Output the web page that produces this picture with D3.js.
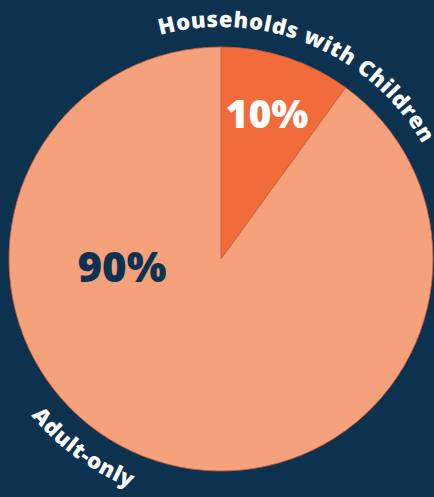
<!DOCTYPE html>
<html>
<head>
<meta charset="utf-8">
<script src="https://cdn.jsdelivr.net/npm/d3@7"></script>
<style>
  html, body { margin: 0; padding: 0; background: #0c3250; }
  svg { display: block; }
  text { font-family: "Open Sans", Lato, sans-serif; font-weight: 800; }
</style>
</head>
<body>
<svg id="chart" width="434" height="497"></svg>
<script>
// Household composition shares
const categories = ["Households with Children", "Adult-only"];
const shares = [10, 90];
const valueLabels = ["10%", "90%"];
const sliceColors = ["#f26b3a", "#f5a17b"];
const valueColors = ["#ffffff", "#0c3250"];

const width = 434, height = 497;
const cx = 221, cy = 259, radius = 212;

const svg = d3.select("#chart");
const g = svg.append("g").attr("transform", `translate(${cx},${cy})`);

const data = categories.map((c, i) => ({ category: c, value: shares[i], label: valueLabels[i] }));

const pie = d3.pie().value(d => d.value).sort(null);
const arcs = pie(data);

const arc = d3.arc().innerRadius(0).outerRadius(radius);

g.selectAll("path.slice")
  .data(arcs)
  .join("path")
  .attr("class", "slice")
  .attr("d", arc)
  .attr("fill", (d, i) => sliceColors[i])
  .attr("stroke", "#c8603a")
  .attr("stroke-width", 0.8);

// value labels inside slices
const labelPos = [[46, -145], [-99, 8]];
const labelSize = [39, 42];
g.selectAll("text.value")
  .data(arcs)
  .join("text")
  .attr("class", "value")
  .attr("x", (d, i) => labelPos[i][0])
  .attr("y", (d, i) => labelPos[i][1])
  .attr("dy", "0.36em")
  .attr("text-anchor", "middle")
  .attr("font-size", (d, i) => labelSize[i])
  .attr("fill", (d, i) => valueColors[i])
  .text(d => d.data.label);

// curved category labels around the rim
function rimPath(centerDeg, spanDeg, r, clockwise) {
  const toXY = a => {
    const rad = a * Math.PI / 180;
    return [r * Math.sin(rad), -r * Math.cos(rad)];
  };
  const a0 = clockwise ? centerDeg - spanDeg : centerDeg + spanDeg;
  const a1 = clockwise ? centerDeg + spanDeg : centerDeg - spanDeg;
  const p0 = toXY(a0), p1 = toXY(a1);
  const large = spanDeg * 2 > 180 ? 1 : 0;
  return `M${p0[0]},${p0[1]} A${r},${r} 0 ${large} ${clockwise ? 1 : 0} ${p1[0]},${p1[1]}`;
}

const rimLabels = [
  { id: "rim0", center: 22.6, r: 232, cw: true, size: 22, spacing: 0.6 },
  { id: "rim1", center: 216, r: 246, cw: false, size: 22, spacing: 0.6 }
];

const defs = svg.append("defs");
rimLabels.forEach(l => {
  defs.append("path")
    .attr("id", l.id)
    .attr("d", rimPath(l.center, 80, l.r, l.cw))
    .attr("transform", `translate(${cx},${cy})`);
});

svg.selectAll("text.rim")
  .data(rimLabels)
  .join("text")
  .attr("class", "rim")
  .attr("font-size", d => d.size)
  .attr("letter-spacing", d => d.spacing)
  .attr("fill", "#ffffff")
  .append("textPath")
  .attr("href", d => "#" + d.id)
  .attr("startOffset", "50%")
  .attr("text-anchor", "middle")
  .text((d, i) => categories[i]);
</script>
</body>
</html>
